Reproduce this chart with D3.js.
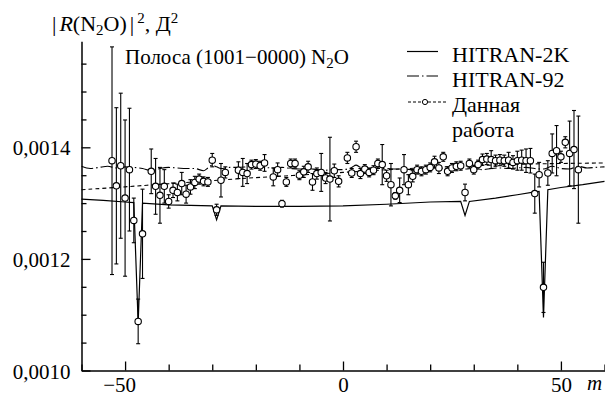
<!DOCTYPE html>
<html>
<head>
<meta charset="utf-8">
<script src="https://cdn.jsdelivr.net/npm/d3@7"></script>
<style>
  body { margin: 0; background: #fff; }
  svg { display: block; }
</style>
</head>
<body>
<div id="chart"></div>
<script>
// experimental points: m, |R|^2 (D^2) and half error bar
const mExp = [-53, -52, -51, -50, -49, -48, -47, -46, -44, -43, -42, -41, -40, -39, -38, -37, -36, -35, -34, -33,
  -32, -31, -30, -29, -28, -27, -24, -23, -22, -21, -20, -19, -18, -16, -15, -14, -13, -12, -11, -10,
  -9, -8, -7, -6, -5, -4, -3, -2, -1, 1, 2, 3, 4, 5, 6, 7, 8, 9, 10, 11,
  12, 13, 14, 15, 16, 17, 18, 19, 20, 21, 22, 23, 24, 25, 26, 27, 28, 29, 30, 31,
  32, 33, 34, 35, 36, 37, 38, 39, 40, 41, 42, 43, 44, 45, 46, 47, 48, 49, 50, 51,
  52, 53, 54];
const rExp = [0.001376, 0.001331, 0.001367, 0.001309, 0.00136, 0.001269, 0.001088, 0.001245, 0.001357, 0.00133,
  0.001314, 0.00133, 0.001303, 0.001323, 0.001319, 0.001335, 0.001316, 0.001329, 0.001337, 0.001343,
  0.001339, 0.001338, 0.001377, 0.001288, 0.001341, 0.001355, 0.001359, 0.001355, 0.001353, 0.001369,
  0.00137, 0.001367, 0.001372, 0.001347, 0.00136, 0.001299, 0.001338, 0.001371, 0.001371, 0.00135,
  0.001356, 0.001365, 0.001338, 0.001353, 0.001355, 0.001345, 0.001343, 0.001358, 0.001339, 0.001381,
  0.001354, 0.001401, 0.001353, 0.001361, 0.001355, 0.001359, 0.001371, 0.001369, 0.001349, 0.001333,
  0.001313, 0.001323, 0.00136, 0.001333, 0.001348, 0.00136, 0.001357, 0.00136, 0.001364, 0.001374,
  0.001363, 0.001383, 0.001357, 0.001363, 0.001366, 0.001367, 0.001319, 0.001371, 0.00136, 0.001369,
  0.001378, 0.001379, 0.001378, 0.001376, 0.001377, 0.001376, 0.001377, 0.001373, 0.001376, 0.001377,
  0.001376, 0.001376, 0.001317, 0.001351, 0.001149, 0.001354, 0.001389, 0.001394, 0.001383, 0.001409,
  0.001389, 0.001396, 0.00136];
const errExp = [0.000204, 0.00014, 0.00013, 0.00014, 0.00011, 0.00004, 0.00004, 0.00008, 0.00004, 0.00005,
  0.00005, 0.00003, 0.000012, 0.000013, 0.000015, 0.00002, 0.000016, 0.000013, 0.000011, 0.000009,
  0.000008, 0.000008, 0.000012, 0.00001, 0.00003, 0.00001, 0.000015, 0.000025, 0.000018, 0.000008,
  0.000008, 0.000008, 0.000015, 0.000016, 0.000012, 0.000006, 0.000008, 0.000008, 0.000008, 0.000008,
  0.00001, 0.00001, 0.000015, 0.00001, 0.000034, 0.00001, 0.000075, 0.000012, 0.00001, 0.00001,
  0.000008, 0.00001, 0.000009, 0.000008, 0.000008, 0.000008, 0.000008, 0.000036, 0.00001, 0.000038,
  0.000006, 0.000022, 0.000027, 0.000018, 0.00001, 0.000008, 0.000008, 0.000008, 0.000008, 0.00001,
  0.00001, 0.000008, 0.000008, 0.000008, 0.000008, 0.000008, 0.000015, 0.000008, 0.000008, 0.000008,
  0.00001, 0.00001, 0.000016, 0.00001, 0.00001, 0.00001, 0.000014, 0.000012, 0.000017, 0.000018,
  0.000021, 0.000022, 0.000035, 0.000022, 0.000045, 0.000022, 0.000035, 0.000045, 0.00001, 0.00001,
  0.000058, 0.00007, 0.000096];

// HITRAN-2K
const m2k = [-60, -55, -50, -48, -47, -46, -40, -30, -29, -28, -20, -10, 0, 10, 20, 27, 28, 29, 35, 40, 44, 45, 46, 47, 50, 55, 60];
const r2k = [0.001307, 0.001305, 0.001302, 0.001301, 0.001085, 0.0013, 0.001297, 0.001295, 0.00127, 0.001295,
  0.001294, 0.001294, 0.001295, 0.001298, 0.001302, 0.001303, 0.001278, 0.001303, 0.001309, 0.001315,
  0.00132, 0.001321, 0.001095, 0.001324, 0.001328, 0.001333, 0.001339];

// HITRAN-92
const m92 = [-60, -58, -56, -54, -52, -50, -48, -46, -44, -42, -40, -38, -36, -34, -32, -31, -30, -29, -28, -26,
  -24, -22, -20, -18, -16, -14, -12, -10, -8, -6, -4, -2, 0, 2, 3, 4, 6, 8, 10, 12,
  14, 16, 18, 20, 22, 24, 26, 28, 30, 32, 34, 36, 38, 40, 42, 44, 46, 48, 50, 52,
  54, 56, 58, 60];
const r92 = [0.001366, 0.001362, 0.001364, 0.001366, 0.001363, 0.001365, 0.001364, 0.001362, 0.001358, 0.001362,
  0.001364, 0.001363, 0.001362, 0.001362, 0.001358, 0.001363, 0.001368, 0.001365, 0.001362, 0.001364,
  0.001364, 0.001365, 0.001366, 0.001364, 0.001363, 0.001364, 0.001362, 0.001361, 0.001362, 0.00136,
  0.001359, 0.00136, 0.00136, 0.001364, 0.001368, 0.001364, 0.001362, 0.001362, 0.001362, 0.001361,
  0.001361, 0.00136, 0.001361, 0.001362, 0.001363, 0.001362, 0.001362, 0.001361, 0.001362, 0.00136,
  0.001362, 0.001363, 0.001362, 0.001363, 0.001364, 0.001362, 0.001361, 0.001366, 0.001362, 0.001361,
  0.001366, 0.001363, 0.001364, 0.001365];

// this work (fit)
const mFit = [-60, -50, -40, -30, -20, -10, 0, 10, 20, 30, 40, 50, 60];
const rFit = [0.001324, 0.001329, 0.001335, 0.00134, 0.001346, 0.00135, 0.001355, 0.00136, 0.001364, 0.001367,
  0.00137, 0.001371, 0.001372];

const xMajor = [-50, 0, 50];
const xMinor = [-60, -40, -30, -20, -10, 10, 20, 30, 40, 60];
const yMajor = [0.0010, 0.0012, 0.0014];
const yMinor = [0.00105, 0.0011, 0.00115, 0.00125, 0.0013, 0.00135, 0.00145, 0.0015, 0.00155];

const legendNames = ['HITRAN-2K', 'HITRAN-92', 'Данная', 'работа'];

const serif = 'Liberation Serif, DejaVu Serif, Noto Serif, Tinos, Times New Roman, Times, Nimbus Roman, FreeSerif, serif';

const width = 605;
const height = 396;

const x = d3.scaleLinear().domain([-60, 60]).range([81.5, 604.5]);
const y = d3.scaleLinear().domain([0.001, 0.00159]).range([370.5, 41.3]);

const svg = d3.select('#chart').append('svg')
  .attr('width', width)
  .attr('height', height)
  .style('font-family', serif);

/* Axes
=========================================================================*/
const fmtY = (d) => d3.format('.4f')(d).replace('.', ',');
const fmtX = (d) => (d < 0 ? '\u2212' + Math.abs(d) : String(d));

svg.append('g')
  .attr('transform', `translate(${x(-60)},0)`)
  .call(d3.axisRight(y).tickValues(yMinor).tickSize(5).tickSizeOuter(0).tickFormat(''))
  .call((g) => g.select('.domain').attr('stroke-width', 1.5));

svg.append('g')
  .attr('transform', `translate(${x(-60)},0)`)
  .call(d3.axisLeft(y).tickValues(yMajor).tickSize(-9).tickSizeOuter(0).tickFormat(fmtY))
  .call((g) => g.select('.domain').remove())
  .call((g) => g.selectAll('text').attr('x', -11).attr('dy', '0.36em').attr('font-size', 21).attr('fill', '#000'));

svg.append('g')
  .attr('transform', `translate(0,${y(0.001)})`)
  .call(d3.axisBottom(x).tickValues(xMinor).tickSize(-6).tickSizeOuter(0).tickFormat(''))
  .call((g) => g.select('.domain').attr('stroke-width', 1.5));

svg.append('g')
  .attr('transform', `translate(0,${y(0.001)})`)
  .call(d3.axisBottom(x).tickValues(xMajor).tickSize(-9).tickSizeOuter(0).tickFormat(fmtX))
  .call((g) => g.select('.domain').remove())
  .call((g) => g.selectAll('text')
    .attr('y', 21).attr('dy', 0)
    .attr('dx', (d) => (d < 0 ? -6 : 0))
    .attr('font-size', 21).attr('fill', '#000'));

svg.selectAll('g').attr('font-family', null).style('font-family', serif);
svg.selectAll('.tick line').attr('stroke', '#000').attr('stroke-width', 1.3);
svg.selectAll('.domain').attr('stroke', '#000');

svg.append('text')
  .attr('x', 587).attr('y', 390)
  .attr('font-size', 21).attr('font-style', 'italic')
  .text('m');

/* Labels
=========================================================================*/
const yLab = svg.append('text').attr('x', 52).attr('y', 31).attr('font-size', 22);
yLab.append('tspan').text('|');
yLab.append('tspan').attr('font-style', 'italic').attr('dx', 3).text('R');
yLab.append('tspan').text('(N');
yLab.append('tspan').attr('font-size', 15).attr('dy', 4).text('2');
yLab.append('tspan').attr('dy', -4).text('O)');
yLab.append('tspan').attr('dx', 3).text('|');
yLab.append('tspan').attr('font-size', 15).attr('dy', -8).attr('dx', 3).text('2');
yLab.append('tspan').attr('dy', 8).text(',  Д');
yLab.append('tspan').attr('font-size', 15).attr('dy', -8).text('2');

const title = svg.append('text').attr('x', 125).attr('y', 64).attr('font-size', 21);
title.append('tspan').text('Полоса (1001\u22120000) N');
title.append('tspan').attr('font-size', 15).attr('dy', 4).text('2');
title.append('tspan').attr('dy', -4).text('O');

/* Lines
=========================================================================*/
const line = d3.line().x((d) => x(d[0])).y((d) => y(d[1]));

svg.append('path')
  .datum(d3.zip(m2k, r2k))
  .attr('d', line)
  .attr('fill', 'none').attr('stroke', '#000').attr('stroke-width', 1.2);

svg.append('path')
  .datum(d3.zip(m92, r92))
  .attr('d', line.curve(d3.curveMonotoneX))
  .attr('fill', 'none').attr('stroke', '#000').attr('stroke-width', 1.1)
  .attr('stroke-dasharray', '12,3,1.5,3');

svg.append('path')
  .datum(d3.zip(mFit, rFit))
  .attr('d', line.curve(d3.curveBasis))
  .attr('fill', 'none').attr('stroke', '#000').attr('stroke-width', 1.1)
  .attr('stroke-dasharray', '4,3');

/* Points
=========================================================================*/
const pts = d3.zip(mExp, rExp, errExp);

const bars = svg.append('g').attr('stroke', '#000').attr('stroke-width', 1.1);
bars.selectAll('line.err')
  .data(pts)
  .enter()
  .append('line')
  .attr('x1', (d) => x(d[0])).attr('x2', (d) => x(d[0]))
  .attr('y1', (d) => y(d[1] - d[2])).attr('y2', (d) => y(d[1] + d[2]));

['lo', 'hi'].forEach((side) => {
  bars.selectAll(`line.${side}`)
    .data(pts)
    .enter()
    .append('line')
    .attr('x1', (d) => x(d[0]) - 2).attr('x2', (d) => x(d[0]) + 2)
    .attr('y1', (d) => y(side === 'lo' ? d[1] - d[2] : d[1] + d[2]))
    .attr('y2', (d) => y(side === 'lo' ? d[1] - d[2] : d[1] + d[2]));
});

svg.append('g')
  .selectAll('circle')
  .data(pts)
  .enter()
  .append('circle')
  .attr('cx', (d) => x(d[0])).attr('cy', (d) => y(d[1]))
  .attr('r', 3.2)
  .attr('fill', '#fff').attr('stroke', '#000').attr('stroke-width', 1.1);

/* Legend
=========================================================================*/
const legend = svg.append('g').attr('font-size', 22);
const rowsY = [51.5, 76, 102];

legend.append('line').attr('x1', 407).attr('x2', 438).attr('y1', rowsY[0]).attr('y2', rowsY[0])
  .attr('stroke', '#000').attr('stroke-width', 1.2);
legend.append('line').attr('x1', 407).attr('x2', 438).attr('y1', rowsY[1]).attr('y2', rowsY[1])
  .attr('stroke', '#000').attr('stroke-width', 1.1).attr('stroke-dasharray', '12,3,1.5,3');
legend.append('line').attr('x1', 408).attr('x2', 447).attr('y1', rowsY[2]).attr('y2', rowsY[2])
  .attr('stroke', '#000').attr('stroke-width', 1).attr('stroke-dasharray', '3,2');
legend.append('circle').attr('cx', 425).attr('cy', rowsY[2]).attr('r', 2.6)
  .attr('fill', '#fff').attr('stroke', '#000').attr('stroke-width', 1);

legend.selectAll('text')
  .data(legendNames)
  .enter()
  .append('text')
  .attr('x', 452)
  .attr('y', (d, i) => 61.5 + i * 25.3)
  .text((d) => d);
</script>
</body>
</html>
